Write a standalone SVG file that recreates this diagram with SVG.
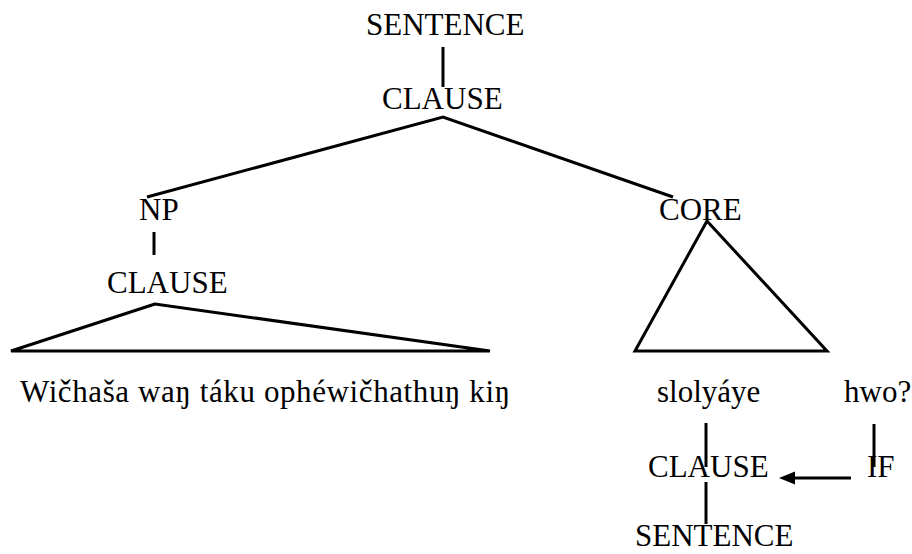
<svg xmlns="http://www.w3.org/2000/svg" width="912" height="554" viewBox="0 0 912 554">
<defs>
<style>
text{font-family:"Liberation Serif","Times New Roman",serif;font-size:31px;fill:#000}
.l{stroke:#000;stroke-width:3;fill:none;stroke-linejoin:miter}
</style>
</defs>
<rect width="912" height="554" fill="#fff"/>
<g id="n-sentence-top"><text x="366" y="35">SENTENCE</text></g>
<g id="n-clause-top"><text x="382" y="109">CLAUSE</text></g>
<g id="n-np"><text x="139" y="220">NP</text></g>
<g id="n-core"><text x="659" y="220">CORE</text></g>
<g id="n-clause-left"><text x="107" y="293">CLAUSE</text></g>
<g id="n-wichasa"><text x="20" y="402" textLength="490" lengthAdjust="spacing">Wičhaša waŋ táku ophéwičhathuŋ kiŋ</text></g>
<g id="n-slolyaye"><text x="657" y="402">slolyáye</text></g>
<g id="n-hwo"><text x="844" y="402">hwo?</text></g>
<g id="n-clause-low"><text x="648" y="477">CLAUSE</text></g>
<g id="n-if"><text x="867" y="477">IF</text></g>
<g id="n-sentence-low"><text x="635" y="546">SENTENCE</text></g>
<g id="connectors">
<line class="l" x1="443" y1="47" x2="443" y2="87"/>
<polyline class="l" points="147,197 443,117 673,197"/>
<line class="l" x1="154" y1="232" x2="154" y2="255"/>
<polygon class="l" points="155,304 11,351 490,351"/>
<polygon class="l" points="707,221 635,351 827,351"/>
<line class="l" x1="706" y1="423" x2="706" y2="467"/>
<line class="l" x1="874" y1="424" x2="874" y2="467"/>
<line class="l" x1="706" y1="482" x2="706" y2="524"/>
<line class="l" x1="851" y1="478" x2="793" y2="478"/>
<path d="M779,478 L795,471.5 L795,484.5 Z" fill="#000"/>
</g>
</svg>
